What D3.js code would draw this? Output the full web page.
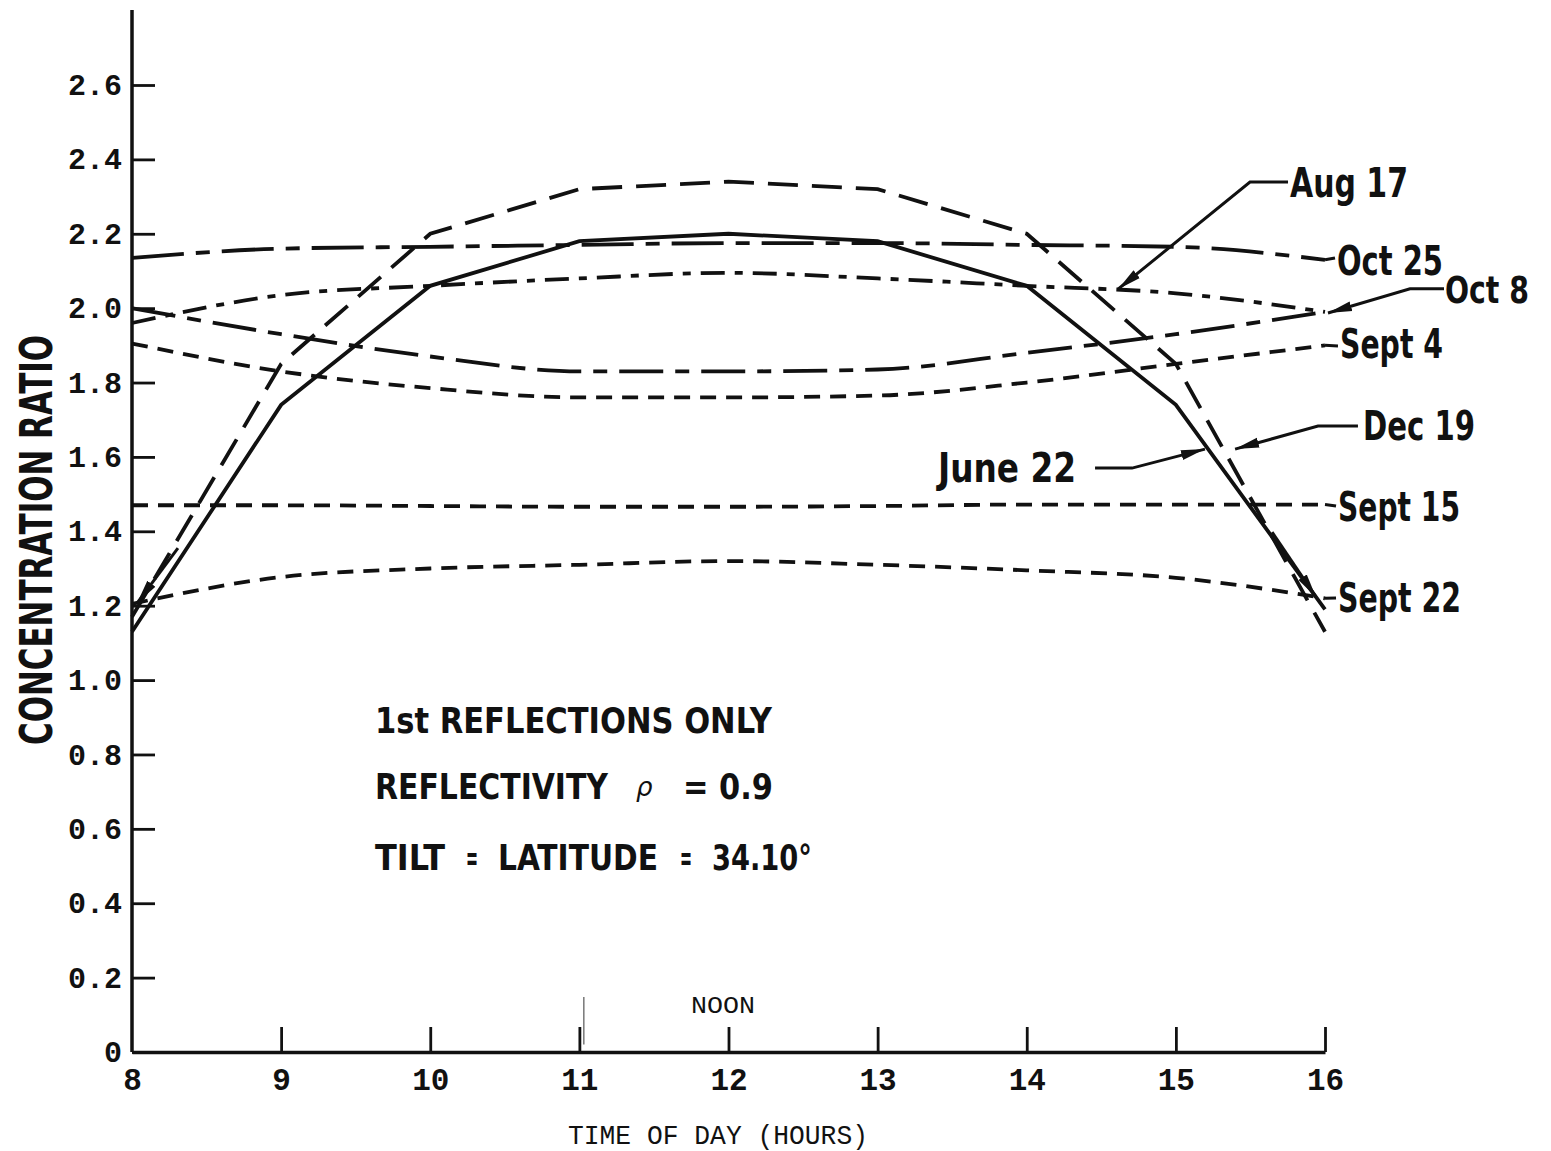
<!DOCTYPE html>
<html>
<head>
<meta charset="utf-8">
<script src="https://cdn.jsdelivr.net/npm/d3@7"></script>
<style>
  html, body { margin: 0; padding: 0; background: #fff; }
  svg { display: block; }
</style>
</head>
<body>
<svg id="chart" width="1551" height="1151"></svg>
<script>
// ---------------- data ----------------
const hours   = [8, 9, 10, 11, 12, 13, 14, 15, 16];
const dec19   = [1.17, 1.85, 2.20, 2.32, 2.34, 2.32, 2.20, 1.85, 1.13];
const june22  = [1.13, 1.74, 2.06, 2.18, 2.20, 2.18, 2.06, 1.74, 1.19];
const oct25   = [2.135, 2.16, 2.165, 2.17, 2.175, 2.175, 2.17, 2.165, 2.13];
const aug17   = [1.96, 2.035, 2.06, 2.08, 2.095, 2.08, 2.06, 2.04, 1.99];
const oct8    = [2.00, 1.93, 1.87, 1.83, 1.83, 1.835, 1.88, 1.93, 1.99];
const sept4   = [1.905, 1.83, 1.785, 1.76, 1.76, 1.765, 1.80, 1.85, 1.90];
const sept15  = [1.47, 1.47, 1.468, 1.466, 1.466, 1.468, 1.472, 1.472, 1.472];
const sept22  = [1.205, 1.277, 1.30, 1.31, 1.32, 1.31, 1.295, 1.275, 1.22];

const seriesNames = ["Dec 19", "June 22", "Oct 25", "Aug 17", "Oct 8", "Sept 4", "Sept 15", "Sept 22"];
const seriesValues = [dec19, june22, oct25, aug17, oct8, sept4, sept15, sept22];

const xTicks = [8, 9, 10, 11, 12, 13, 14, 15, 16];
const yTicks = [0, 0.2, 0.4, 0.6, 0.8, 1.0, 1.2, 1.4, 1.6, 1.8, 2.0, 2.2, 2.4, 2.6];

// ---------------- styles ----------------
const lineStyle = {
  "Dec 19":  { dash: "30,14", curve: d3.curveLinear },
  "June 22": { dash: null,    curve: d3.curveLinear },
  "Oct 25":  { dash: "52,12,14,12", curve: d3.curveMonotoneX },
  "Aug 17":  { dash: "24,10,8,10",  curve: d3.curveMonotoneX },
  "Oct 8":   { dash: "44,12,14,12", curve: d3.curveMonotoneX },
  "Sept 4":  { dash: "16,10", curve: d3.curveMonotoneX },
  "Sept 15": { dash: "16,10", curve: d3.curveMonotoneX },
  "Sept 22": { dash: "16,10", curve: d3.curveMonotoneX }
};

const INK = "#111";
const svg = d3.select("#chart");

const x = d3.scaleLinear().domain([8, 16]).range([132, 1325]);
const y = d3.scaleLinear().domain([0, 2.6]).range([1052, 85]);

// marker
const defs = svg.append("defs");
defs.append("marker")
  .attr("id", "arrow")
  .attr("viewBox", "0 0 24 12")
  .attr("refX", 24).attr("refY", 6)
  .attr("markerWidth", 24).attr("markerHeight", 12)
  .attr("markerUnits", "userSpaceOnUse")
  .attr("orient", "auto")
  .append("path").attr("d", "M0,1 L24,6 L0,11 Z").attr("fill", INK);

// ---------------- axes ----------------
const monoFont = "'Liberation Mono','DejaVu Sans Mono',monospace";
const condFont = "'Liberation Sans Narrow','DejaVu Sans Condensed','Liberation Sans',sans-serif";

const yAxis = d3.axisLeft(y)
  .tickValues(yTicks)
  .tickSizeInner(-23).tickSizeOuter(0).tickPadding(10)
  .tickFormat(d => d === 0 ? "0" : d3.format(".1f")(d));
const gy = svg.append("g").attr("transform", `translate(${x(8)},0)`).call(yAxis);
gy.select(".domain").remove();
gy.selectAll(".tick line").attr("stroke", INK).attr("stroke-width", 2.8);
gy.selectAll(".tick text")
  .attr("fill", INK).attr("font-family", monoFont).attr("font-weight", "bold")
  .attr("font-size", 30);
gy.append("line")
  .attr("x1", 0).attr("x2", 0)
  .attr("y1", y(0)).attr("y2", y(2.6) - 75)
  .attr("stroke", INK).attr("stroke-width", 3.5);

const xAxis = d3.axisBottom(x)
  .tickValues(xTicks)
  .tickSizeInner(-25).tickSizeOuter(0).tickPadding(16)
  .tickFormat(d3.format("d"));
const gx = svg.append("g").attr("transform", `translate(0,${y(0)})`).call(xAxis);
gx.select(".domain").attr("stroke", INK).attr("stroke-width", 3.5);
gx.selectAll(".tick line").attr("stroke", INK).attr("stroke-width", 2.8)
  .filter(d => d === 8).remove();
gx.selectAll(".tick text")
  .attr("fill", INK).attr("font-family", monoFont).attr("font-weight", "bold")
  .attr("font-size", 31);

// axis titles
svg.append("text")
  .attr("transform", "translate(52,540) rotate(-90)")
  .attr("text-anchor", "middle")
  .attr("font-family", condFont).attr("font-weight", "bold")
  .attr("font-size", 44).attr("fill", INK)
  .attr("textLength", 410).attr("lengthAdjust", "spacingAndGlyphs")
  .text("CONCENTRATION RATIO");

svg.append("text")
  .attr("x", 568).attr("y", 1144)
  .attr("font-family", monoFont).attr("font-size", 28).attr("fill", INK)
  .attr("textLength", 300).attr("lengthAdjust", "spacingAndGlyphs")
  .text("TIME OF DAY (HOURS)");

// noon marker
svg.append("line")
  .attr("x1", x(11.03)).attr("x2", x(11.03))
  .attr("y1", y(0.148)).attr("y2", y(0.02))
  .attr("stroke", "#555").attr("stroke-width", 1.2);
svg.append("text")
  .attr("x", 691).attr("y", 1013)
  .attr("font-family", monoFont).attr("font-size", 24).attr("fill", INK)
  .attr("textLength", 64).attr("lengthAdjust", "spacingAndGlyphs")
  .text("NOON");

// ---------------- lines ----------------
const gLines = svg.append("g");
seriesNames.forEach((name, i) => {
  const vals = seriesValues[i];
  const st = lineStyle[name];
  const line = d3.line().x((d, j) => x(hours[j])).y(d => y(d)).curve(st.curve);
  gLines.append("path")
    .datum(vals)
    .attr("d", line)
    .attr("fill", "none")
    .attr("stroke", INK)
    .attr("stroke-width", 3.8)
    .attr("stroke-dasharray", st.dash)
    .attr("stroke-linecap", "butt");
});

// ---------------- annotations (data units) ----------------
const P = (h, v) => [x(h), y(v)];
const leaderLine = d3.line();
const leaders = [
  { pts: [[15.752, 2.339], [15.497, 2.339], [14.612, 2.051]], arrow: true },   // Aug 17
  { pts: [[16.0, 2.13], [16.067, 2.135]], arrow: false },                       // Oct 25
  { pts: [[16.798, 2.052], [16.570, 2.052], [16.02, 1.987]], arrow: true },    // Oct 8
  { pts: [[16.0, 1.90], [16.087, 1.898]], arrow: false },                       // Sept 4
  { pts: [[16.221, 1.683], [15.953, 1.683], [15.397, 1.621]], arrow: true },   // Dec 19
  { pts: [[14.458, 1.570], [14.706, 1.570], [15.195, 1.621]], arrow: true },   // June 22
  { pts: [[16.0, 1.472], [16.074, 1.468]], arrow: false },                      // Sept 15
  { pts: [[16.0, 1.22], [16.074, 1.221]], arrow: false },                       // Sept 22
  { pts: [[8.308, 1.355], [8.034, 1.207]], arrow: true },
  { pts: [[15.645, 1.398], [15.94, 1.223]], arrow: true }
];
leaders.forEach(l => {
  svg.append("path")
    .attr("d", leaderLine(l.pts.map(p => P(p[0], p[1]))))
    .attr("fill", "none").attr("stroke", INK).attr("stroke-width", 3)
    .attr("marker-end", l.arrow ? "url(#arrow)" : null);
});

const seriesLabels = [
  { text: "Aug 17",  px: 1290, py: 197, w: 118, fs: 40 },
  { text: "Oct 25",  px: 1337, py: 275, w: 106, fs: 40 },
  { text: "Oct 8",   px: 1445, py: 303, w: 84,  fs: 37 },
  { text: "Sept 4",  px: 1340, py: 358, w: 103, fs: 40 },
  { text: "Dec 19",  px: 1363, py: 440, w: 112, fs: 40 },
  { text: "June 22", px: 938,  py: 482, w: 138, fs: 40 },
  { text: "Sept 15", px: 1338, py: 521, w: 122, fs: 40 },
  { text: "Sept 22", px: 1338, py: 612, w: 123, fs: 40 }
];
seriesLabels.forEach(l => {
  svg.append("text")
    .attr("x", l.px).attr("y", l.py)
    .attr("font-family", condFont).attr("font-weight", "bold")
    .attr("font-size", l.fs).attr("fill", INK)
    .attr("textLength", l.w).attr("lengthAdjust", "spacingAndGlyphs")
    .text(l.text);
});

// notes block
const notes = [
  { text: "1st REFLECTIONS ONLY", px: 375, py: 733, w: 397, fs: 36 },
  { text: "REFLECTIVITY", px: 375, py: 799, w: 233, fs: 36 },
  { text: "= 0.9", px: 683, py: 799, w: 90, fs: 36 },
  { text: "TILT", px: 375, py: 870, w: 70, fs: 36 },
  { text: "=", px: 466, py: 870, w: 12, fs: 36 },
  { text: "LATITUDE", px: 498, py: 870, w: 160, fs: 36 },
  { text: "=", px: 680, py: 870, w: 12, fs: 36 },
  { text: "34.10°", px: 712, py: 870, w: 100, fs: 36 }
];
notes.forEach(n => {
  svg.append("text")
    .attr("x", n.px).attr("y", n.py)
    .attr("font-family", condFont).attr("font-weight", "bold")
    .attr("font-size", n.fs).attr("fill", INK)
    .attr("textLength", n.w).attr("lengthAdjust", "spacingAndGlyphs")
    .text(n.text);
});
svg.append("text")
  .attr("x", 636).attr("y", 796)
  .attr("font-family", "'DejaVu Sans',sans-serif").attr("font-style", "italic")
  .attr("font-size", 26).attr("fill", INK)
  .text("ρ");
</script>
</body>
</html>
